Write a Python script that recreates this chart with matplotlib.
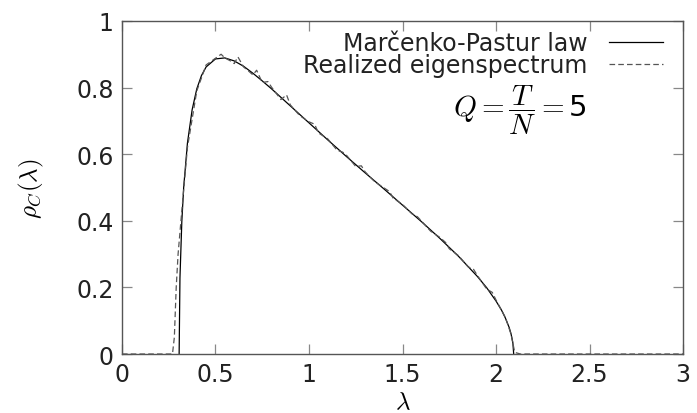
import matplotlib
matplotlib.use('Agg')
import matplotlib.pyplot as plt

plt.rcParams['font.family'] = 'DejaVu Sans'
plt.rcParams['mathtext.fontset'] = 'cm'

# Marcenko-Pastur law, Q = 5
lam_mp = [0.3056, 0.31, 0.32, 0.33, 0.35, 0.375, 0.40, 0.425, 0.45, 0.50, 0.55,
          0.60, 0.65, 0.70, 0.75, 0.80, 0.90, 1.00, 1.10, 1.20, 1.30, 1.40, 1.50,
          1.60, 1.70, 1.80, 1.90, 1.95, 2.00, 2.03, 2.05, 2.07, 2.08, 2.09, 2.0944]
rho_mp = [0.0, 0.228, 0.398, 0.501, 0.633, 0.733, 0.796, 0.836, 0.862, 0.886, 0.889,
          0.880, 0.864, 0.843, 0.820, 0.796, 0.745, 0.694, 0.643, 0.593, 0.544, 0.496, 0.447,
          0.398, 0.347, 0.293, 0.233, 0.199, 0.159, 0.131, 0.108, 0.080, 0.061, 0.034, 0.0]

# realized eigenspectrum (histogram of sample eigenvalues)
lam_emp = [0.0, 0.27, 0.28, 0.29, 0.30, 0.32, 0.35, 0.40, 0.45, 0.50, 0.53, 0.55, 0.58,
           0.60, 0.62, 0.65, 0.68, 0.70, 0.72, 0.75, 0.78, 0.80, 0.85, 0.88, 0.90, 0.95,
           1.00, 1.03, 1.05, 1.10, 1.15, 1.18, 1.20, 1.25, 1.28, 1.30, 1.35, 1.40, 1.43,
           1.45, 1.50, 1.55, 1.58, 1.60, 1.65, 1.70, 1.73, 1.75, 1.80, 1.85, 1.88, 1.90,
           1.95, 1.98, 2.00, 2.05, 2.08, 2.10, 2.13, 3.0]
rho_emp = [0.0, 0.0, 0.05, 0.20, 0.30, 0.43, 0.62, 0.79, 0.868, 0.888, 0.900, 0.889, 0.880,
           0.872, 0.892, 0.862, 0.848, 0.838, 0.852, 0.815, 0.818, 0.801, 0.764, 0.778, 0.748,
           0.716, 0.697, 0.690, 0.664, 0.646, 0.612, 0.606, 0.597, 0.563, 0.565, 0.547, 0.518,
           0.499, 0.488, 0.468, 0.449, 0.421, 0.412, 0.400, 0.369, 0.350, 0.335, 0.316, 0.295,
           0.262, 0.254, 0.236, 0.195, 0.185, 0.162, 0.110, 0.060, 0.005, 0.0, 0.0]

xticks = [0, 0.5, 1, 1.5, 2, 2.5, 3]
xtick_labels = ['0', '0.5', '1', '1.5', '2', '2.5', '3']
yticks = [0, 0.2, 0.4, 0.6, 0.8, 1]
ytick_labels = ['0', '0.2', '0.4', '0.6', '0.8', '1']

fig = plt.figure(figsize=(6.97, 4.14), dpi=100)
ax = fig.add_axes([0.175, 0.1425, 0.805, 0.8045])

ax.plot(lam_mp, rho_mp, color='black', lw=0.9, label='Marčenko-Pastur law')
ax.plot(lam_emp, rho_emp, color='#555555', lw=0.9, dashes=(4.5, 2.5),
        label='Realized eigenspectrum')

ax.set_xlim(0, 3)
ax.set_ylim(0, 1)
ax.set_xticks(xticks)
ax.set_xticklabels(xtick_labels)
ax.set_yticks(yticks)
ax.set_yticklabels(ytick_labels)
ax.tick_params(direction='in', top=True, right=True, length=7, width=0.9,
               color='#888888', labelsize=17, labelcolor='#222222', pad=6)
for s in ax.spines.values():
    s.set_color('#555555')
    s.set_linewidth(1.0)

ax.set_xlabel(r'$\lambda$', fontsize=18, labelpad=2)
ax.set_ylabel(r'$\rho_C(\lambda)$', fontsize=18, labelpad=22)

ax.text(2.13, 0.733, r'$Q=\dfrac{T}{N}=$5', fontsize=21, ha='center', va='center')

leg = ax.legend(loc='upper right', bbox_to_anchor=(0.964, 0.97), frameon=False,
                markerfirst=False, fontsize=17, handlelength=2.3, handletextpad=0.9,
                labelspacing=-0.08, borderpad=0, borderaxespad=0)
for t in leg.get_texts():
    t.set_color('#222222')

fig.savefig('out.png', dpi=100, facecolor='white')
